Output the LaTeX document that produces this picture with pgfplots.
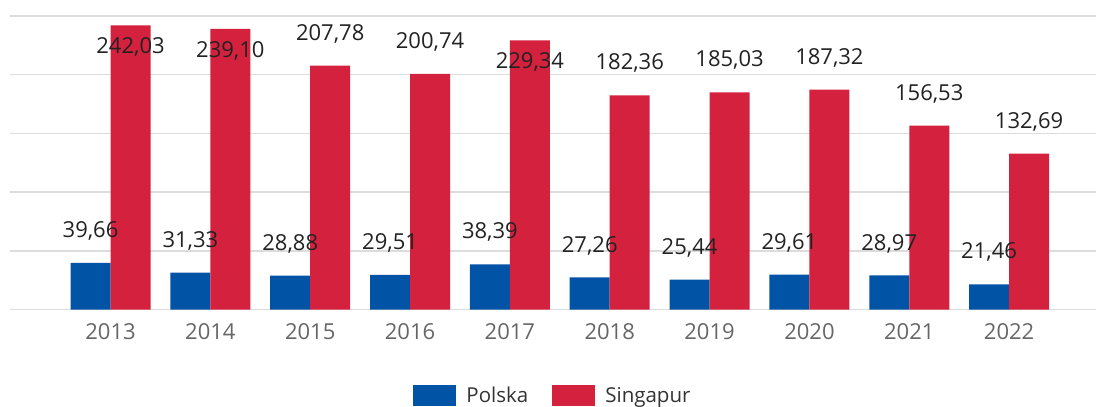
\documentclass[border=0pt]{standalone}
\usepackage{pgfplots}
\pgfplotsset{compat=1.18}
\usepackage{fontspec}
\setmainfont{Open Sans}
\definecolor{plBlue}{HTML}{0053A5}
\definecolor{sgRed}{HTML}{D4213D}
\definecolor{gridc}{HTML}{DCDCDC}
\definecolor{tickc}{HTML}{666666}
\definecolor{labc}{HTML}{222222}
\begin{document}
\begin{tikzpicture}
\useasboundingbox (-10pt,-97.5pt) rectangle (1086pt,309.5pt);
\begin{axis}[
  at={(0pt,0pt)}, anchor=south west,
  scale only axis, width=1086pt, height=293.5pt,
  ybar=0pt, bar width=40pt,
  xmin=-1.007, xmax=9.87, ymin=0, ymax=250,
  ytick={0,50,100,150,200,250}, yticklabels={},
  ymajorgrids, major grid style={gridc, line width=1.5pt},
  axis line style={draw=none},
  major tick length=0pt,
  xtick={0,...,9},
  xticklabels={2013,2014,2015,2016,2017,2018,2019,2020,2021,2022},
  x tick label style={font=\fontsize{22}{26}\selectfont, text=tickc, anchor=center, yshift=-22.5pt},
  clip=false,
  visualization depends on={y \as \rawy},
  nodes near coords={\pgfmathprintnumber[fixed,fixed zerofill,precision=2,use comma,assume math mode=true]{\pgfplotspointmeta}},
  every node near coord/.append style={font=\fontsize{22}{26}\selectfont, text=labc, anchor=center, yshift={(\rawy>220 ? -22 : 32)*1pt}},
  legend columns=2,
  legend style={at={(0.5,-0.293)}, anchor=center, draw=none, fill=none,
    font=\fontsize{20.5}{24}\selectfont, text=black!80,
    /tikz/every even column/.append style={column sep=22pt}},
  legend image code/.code={\fill[#1] (0pt,-10.5pt) rectangle (43pt,10.5pt);\path (51pt,0pt);},
]
\addplot[fill=plBlue, draw=none] coordinates {
 (0,39.66) (1,31.33) (2,28.88) (3,29.51) (4,38.39)
 (5,27.26) (6,25.44) (7,29.61) (8,28.97) (9,21.46)};
\addplot[fill=sgRed, draw=none] coordinates {
 (0,242.03) (1,239.10) (2,207.78) (3,200.74) (4,229.34)
 (5,182.36) (6,185.03) (7,187.32) (8,156.53) (9,132.69)};
\legend{Polska, Singapur}
\end{axis}
\end{tikzpicture}
\end{document}
